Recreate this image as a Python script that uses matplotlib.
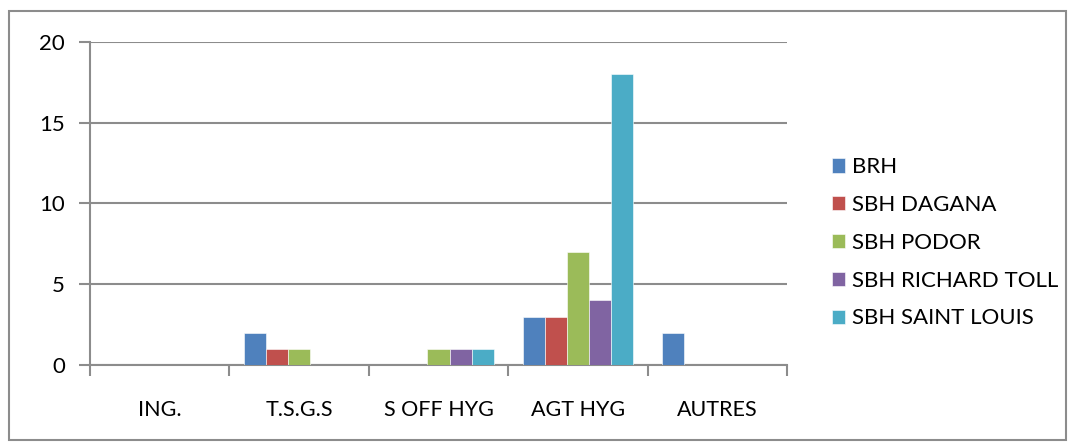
import matplotlib.pyplot as plt
import numpy as np
from matplotlib.patches import Rectangle

categories = ['ING.', 'T.S.G.S', 'S OFF HYG', 'AGT HYG', 'AUTRES']
series_names = ['BRH', 'SBH DAGANA', 'SBH PODOR', 'SBH RICHARD TOLL', 'SBH SAINT LOUIS']
brh = [0, 2, 0, 3, 2]
dagana = [0, 1, 0, 3, 0]
podor = [0, 1, 1, 7, 0]
richard_toll = [0, 0, 1, 4, 0]
saint_louis = [0, 0, 1, 18, 0]
colors = ['#4F81BD', '#C0504D', '#9BBB59', '#8064A2', '#4BACC6']

plt.rcParams['font.family'] = ['Lato', 'DejaVu Sans']

fig = plt.figure(figsize=(10.7, 4.43), dpi=100)
ax = fig.add_axes([90 / 1070, 1 - 365 / 443, 697 / 1070, 323 / 443])

x = np.arange(len(categories))
w = 0.158
for i, (vals, name) in enumerate(zip([brh, dagana, podor, richard_toll, saint_louis], series_names)):
    ax.bar(x + (i - 2) * w, vals, w, color=colors[i], label=name,
           edgecolor='white', linewidth=0.4, zorder=3)

ax.set_xlim(-0.5, 4.5)
ax.set_ylim(0, 20)
ax.set_yticks([0, 5, 10, 15, 20])
ax.grid(axis='y', color='#8c8c8c', linewidth=1.5, zorder=0)
ax.set_xticks(x)
ax.set_xticklabels(categories)
ax.tick_params(axis='x', length=0, pad=25, labelsize=15.5)
ax.set_xticks(np.arange(-0.5, 5, 1), minor=True)
ax.tick_params(axis='x', which='minor', length=8, width=1.5, color='#8c8c8c')
ax.tick_params(axis='y', length=8, width=1.5, color='#8c8c8c', labelsize=16, pad=10)
for s in ['top', 'right']:
    ax.spines[s].set_visible(False)
for s in ['left', 'bottom']:
    ax.spines[s].set_color('#8c8c8c')
    ax.spines[s].set_linewidth(1.5)

ax.legend(loc='center left', bbox_to_anchor=(1.064, 0.378), frameon=False, fontsize=16,
          handlelength=0.6, handleheight=0.6, handletextpad=0.3, labelspacing=0.8,
          borderaxespad=0, borderpad=0)

fig.patches.append(Rectangle((9 / 1070, 3 / 443), 1057 / 1070, 429 / 443,
                             transform=fig.transFigure, fill=False,
                             edgecolor='#8c8c8c', linewidth=1.5))

fig.savefig('out.png', dpi=100)
